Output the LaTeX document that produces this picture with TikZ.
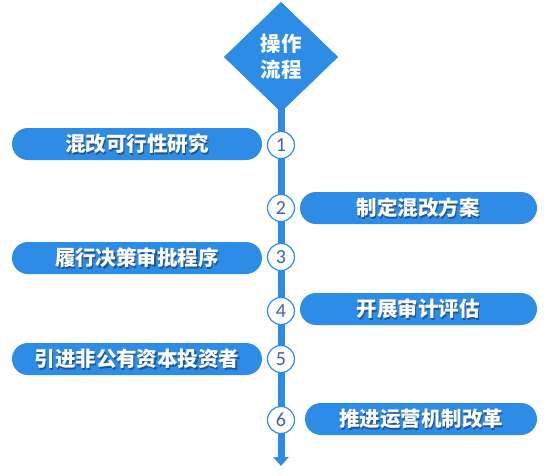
\documentclass[tikz,border=0pt]{standalone}
\usepackage{fontspec}
\newfontfamily\cjk{Noto Sans CJK SC}
\newfontfamily\numfont{Carlito}
\usetikzlibrary{shapes.geometric,arrows.meta}
\definecolor{pillblue}{RGB}{45,140,230}
\definecolor{numblue}{RGB}{70,95,160}
\definecolor{shadowc}{RGB}{20,40,80}
\tikzset{
  lbl/.style={text=white, font=\cjk\bfseries\fontsize{20.5pt}{20.5pt}\selectfont, inner sep=0pt},
  lblshadow/.style={text=shadowc, opacity=0.55, font=\cjk\bfseries\fontsize{20.5pt}{20.5pt}\selectfont, inner sep=0pt},
  numcirc/.style={circle, draw=pillblue, line width=1.2pt, fill=white, minimum size=27pt, inner sep=0pt, text=numblue, font=\numfont\fontsize{20pt}{20pt}\selectfont},
  diabox/.style={diamond, fill=pillblue, minimum width=114pt, minimum height=110pt, inner sep=0pt},
}
\newcommand{\pilltext}[3]{%
  \node[lblshadow] at ([xshift=1.2pt,yshift=-1.4pt]#1) {#3};
  \node[lbl] (#2) at (#1) {#3};}
\begin{document}
\begin{tikzpicture}[x=1pt,y=-1pt]
\useasboundingbox (0,0) rectangle (547,475);
% diamond
\node[diabox] (dia) at (281,57) {};
\coordinate (end) at (281,466);
\draw[pillblue, line width=7pt, -{Triangle[width=15pt,length=9pt]}] (dia.center) -- (end);
\node[diabox] (dia2) at (281,57) {};
\node[text=white, font=\cjk\bfseries\fontsize{20.5pt}{26pt}\selectfont, align=center, inner sep=0pt] (title) at (281,57) {操作\\流程};
% circles
\node[numcirc] (c1) at (281,145) {1};
\node[numcirc] (c2) at (281,208) {2};
\node[numcirc] (c3) at (281,257) {3};
\node[numcirc] (c4) at (281,311) {4};
\node[numcirc] (c5) at (281,359) {5};
\node[numcirc] (c6) at (281,420) {6};
% pills
\fill[pillblue, rounded corners=16pt] (12,128) rectangle (262,160);
\fill[pillblue, rounded corners=16pt] (300,192) rectangle (537,224);
\fill[pillblue, rounded corners=16pt] (12,242) rectangle (262,274);
\fill[pillblue, rounded corners=16pt] (300,293) rectangle (537,325);
\fill[pillblue, rounded corners=16pt] (12,343) rectangle (262,375);
\fill[pillblue, rounded corners=16pt] (305,403) rectangle (537,435);
\coordinate (p1) at (137,144);
\coordinate (p2) at (418,208);
\coordinate (p3) at (137,258);
\coordinate (p4) at (418,309);
\coordinate (p5) at (137,359);
\coordinate (p6) at (421,419);
\pilltext{p1}{t1}{混改可行性研究}
\pilltext{p2}{t2}{制定混改方案}
\pilltext{p3}{t3}{履行决策审批程序}
\pilltext{p4}{t4}{开展审计评估}
\pilltext{p5}{t5}{引进非公有资本投资者}
\pilltext{p6}{t6}{推进运营机制改革}
\end{tikzpicture}
\end{document}
